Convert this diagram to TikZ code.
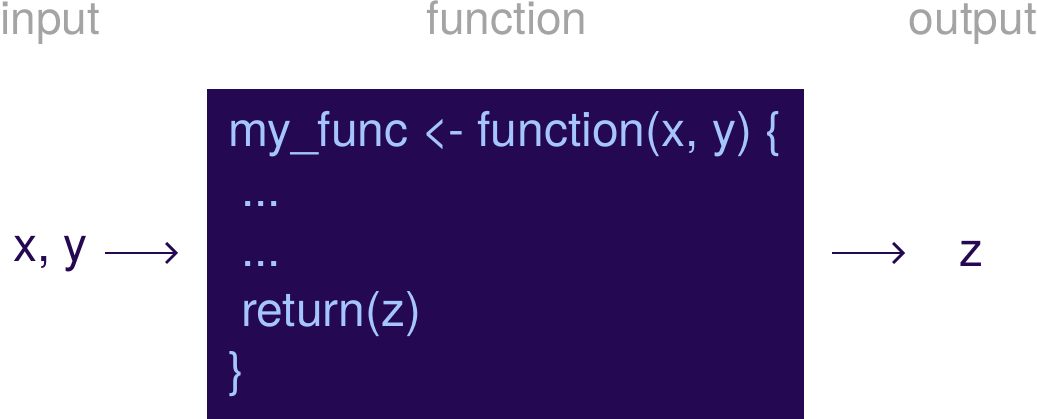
\documentclass[tikz,border=0pt]{standalone}
\usepackage{fontspec}
\setmainfont{TeX Gyre Heros}
\usetikzlibrary{arrows.meta}
\definecolor{boxfill}{HTML}{250852}
\definecolor{codetxt}{HTML}{A5C5FF}
\definecolor{graytxt}{HTML}{A4A4A4}
\definecolor{darktxt}{HTML}{250852}
\tikzset{
  lbl/.style={inner sep=0pt, text=graytxt, font=\fontsize{46}{56}\selectfont, anchor=base},
  code/.style={inner sep=0pt, text=codetxt, font=\fontsize{48}{60}\selectfont, anchor=base west},
  io/.style={inner sep=0pt, text=darktxt, font=\fontsize{48}{60}\selectfont, anchor=base west},
  flow/.style={draw=darktxt, line width=2.8pt, -{Straight Barb[length=10pt,width=20pt,line width=2.8pt]}}
}
\begin{document}
\begin{tikzpicture}[x=1pt,y=-1pt]
\useasboundingbox (0,0) rectangle (1037,419);
\fill[boxfill] (207,89) rectangle (804,419);
\node[lbl, anchor=base west] (in) at (0,35) {input};
\node[lbl] (fn) at (507,35) {function};
\node[lbl, anchor=base east] (out) at (1037,35) {output};
\node[code] (l1) at (228,147) {my\_func <\kern-2pt- function(x, y) \{};
\node[code] (l2) at (241,207) {...};
\node[code] (l3) at (241,267) {...};
\node[code] (l4) at (241,327) {return(z)};
\node[code] (l5) at (228,387) {\}};
\node[io] (xy) at (13,262) {x, y};
\node[io] (z) at (959,267) {z};
\coordinate (a1s) at (105,253);
\coordinate (a1e) at (178,253);
\coordinate (a2s) at (832,253);
\coordinate (a2e) at (905,253);
\draw[flow] (a1s) -- (a1e);
\draw[flow] (a2s) -- (a2e);
\end{tikzpicture}
\end{document}
